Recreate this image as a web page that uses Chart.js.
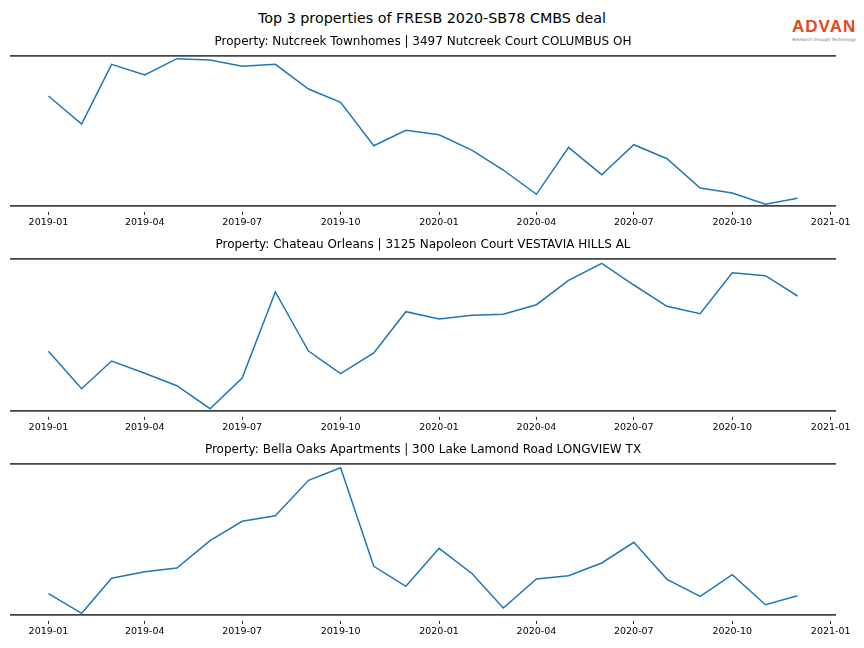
<!DOCTYPE html>
<html>
<head>
<meta charset="utf-8">
<script src="https://cdn.jsdelivr.net/npm/chart.js@4.4.0/dist/chart.umd.min.js"></script>
<style>
  body { margin: 0; background: #fff; width: 864px; height: 648px; overflow: hidden; position: relative; font-family: "DejaVu Sans", sans-serif; }
  #title { position: absolute; top: 10px; left: 0; width: 864px; text-align: center; font-size: 14.3px; color: #000; }
  .panel { position: absolute; left: 0; width: 864px; }
  .brand { position: absolute; left: 792px; top: 17.5px; font-family: "Liberation Sans", sans-serif; font-weight: bold; font-size: 17px; line-height: 17px; letter-spacing: 1px; color: #e2491c; white-space: nowrap; }
  .tag { position: absolute; left: 791px; top: 36.5px; width: 66px; text-align: center; font-size: 4.3px; line-height: 5px; color: #777; white-space: nowrap; }
</style>
</head>
<body>
<div id="title">Top 3 properties of FRESB 2020-SB78 CMBS deal</div>
<div class="brand">ADVAN</div>
<div class="tag">Research through Technology</div>
<div class="panel" id="p0"><canvas id="c0"></canvas></div>
<div class="panel" id="p1"><canvas id="c1"></canvas></div>
<div class="panel" id="p2"><canvas id="c2"></canvas></div>
<script>
const months = ['2019-01', '2019-02', '2019-03', '2019-04', '2019-05', '2019-06',
                '2019-07', '2019-08', '2019-09', '2019-10', '2019-11', '2019-12',
                '2020-01', '2020-02', '2020-03', '2020-04', '2020-05', '2020-06',
                '2020-07', '2020-08', '2020-09', '2020-10', '2020-11', '2020-12'];
const tickLabels = ['2019-01', '2019-04', '2019-07', '2019-10', '2020-01',
                    '2020-04', '2020-07', '2020-10', '2021-01'];

const nutcreek = [110, 82, 141.7, 131, 147.3, 146, 139.7, 141.7, 117, 103.7, 60.3, 75.7,
                  71.3, 55.7, 36, 11.7, 58.7, 31.3, 61.3, 47.3, 18, 13, 1.7, 7.7];
const chateau = [59.7, 22.3, 50, 37.7, 25.3, 2.3, 33, 119, 60, 37.3, 58, 99.3,
                 92, 95.7, 96.7, 106.3, 130.7, 147.7, 126, 104.7, 97.3, 138.3, 135.3, 115];
const bellaOaks = [21.3, 1.7, 36.7, 43.3, 47, 74.3, 93.7, 99.3, 134.7, 147.3, 48.7, 28.7,
                   66.7, 41.3, 7, 36, 39.3, 52, 72.7, 35.7, 18.7, 40.3, 10.3, 19.3];

const panelTitles = [
  'Property: Nutcreek Townhomes | 3497 Nutcreek Court COLUMBUS OH',
  'Property: Chateau Orleans | 3125 Napoleon Court VESTAVIA HILLS AL',
  'Property: Bella Oaks Apartments | 300 Lake Lamond Road LONGVIEW TX'
];
const panelSeries = [nutcreek, chateau, bellaOaks];
const panelMax = [150, 152, 151];

// days since 2019-01-01, like a date axis
function toDays(s) {
  const [y, m] = s.split('-').map(Number);
  return (Date.UTC(y, m - 1, 1) - Date.UTC(2019, 0, 1)) / 86400000;
}

const xMin = -35, xMax = 735;
const areaTops = [56, 259, 464];
const titleBlock = 22, axisBlock = 30;

panelSeries.forEach(function (series, i) {
  const box = document.getElementById('p' + i);
  box.style.top = (areaTops[i] - titleBlock) + 'px';
  box.style.height = (titleBlock + panelMax[i] + axisBlock) + 'px';

  new Chart(document.getElementById('c' + i).getContext('2d'), {
    type: 'line',
    data: {
      datasets: [{
        data: months.map((m, k) => ({ x: toDays(m), y: series[k] })),
        borderColor: '#1f77b4',
        borderWidth: 1.5,
        pointRadius: 0,
        tension: 0,
        clip: false
      }]
    },
    options: {
      responsive: true,
      maintainAspectRatio: false,
      animation: false,
      layout: { padding: { left: 11, right: 29, top: 0, bottom: 0 } },
      plugins: {
        legend: { display: false },
        tooltip: { enabled: false },
        title: {
          display: true,
          text: panelTitles[i],
          color: '#000',
          font: { family: 'DejaVu Sans', size: 12, weight: 'normal', lineHeight: 1.25 },
          padding: { top: 0, bottom: 7 }
        }
      },
      scales: {
        x: {
          type: 'linear',
          position: 'bottom',
          min: xMin,
          max: xMax,
          afterBuildTicks: axis => { axis.ticks = tickLabels.map(t => ({ value: toDays(t) })); },
          afterFit: axis => { axis.height = axisBlock; },
          ticks: {
            autoSkip: false,
            maxRotation: 0,
            padding: 2,
            color: '#000',
            font: { family: 'DejaVu Sans', size: 9.5 },
            callback: v => tickLabels.find(t => toDays(t) === v) || ''
          },
          grid: {
            drawOnChartArea: false,
            drawTicks: true,
            tickLength: 9,
            tickColor: '#333',
            tickWidth: 1,
            tickBorderDash: [0, 5, 4, 20]
          },
          border: { display: true, color: '#444', width: 1.8 }
        },
        x2: {
          type: 'linear',
          position: 'top',
          min: xMin,
          max: xMax,
          ticks: { display: false },
          grid: { display: false },
          afterFit: axis => { axis.height = 0; },
          border: { display: true, color: '#444', width: 1.8 }
        },
        y: {
          display: false,
          min: 0,
          max: panelMax[i]
        }
      }
    }
  });
});
</script>
</body>
</html>
